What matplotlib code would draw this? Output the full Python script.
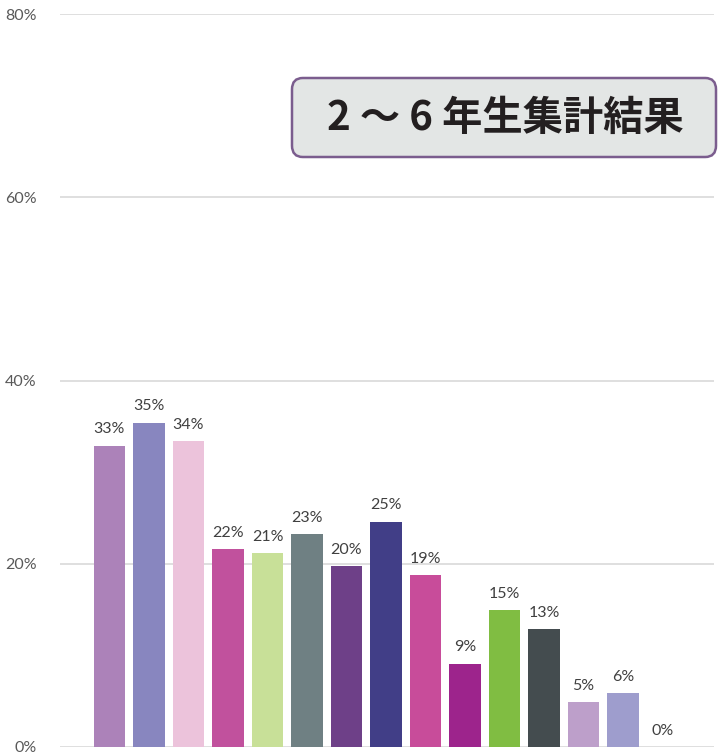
import matplotlib
matplotlib.use('Agg')
import matplotlib.pyplot as plt
from matplotlib.patches import FancyBboxPatch
from matplotlib.ticker import FuncFormatter

values = [33, 35, 34, 22, 21, 23, 20, 25, 19, 9, 15, 13, 5, 6, 0]
heights = [32.9, 35.4, 33.4, 21.6, 21.2, 23.2, 19.7, 24.6, 18.8, 9.1, 14.9, 12.9, 4.9, 5.9, 0.0]
colors = ['#AC82B9', '#8886BF', '#ECC3DB', '#C1519D', '#C8E098', '#6F8083', '#6E4088',
          '#413E87', '#C84C9A', '#9D248C', '#80BD42', '#444C4F', '#BD9FCA', '#9E9DCD', '#CCCCCC']
yticks = [0, 20, 40, 60, 80]
title = '2 ～ 6 年生集計結果'

fig = plt.figure(figsize=(7.18, 7.56), dpi=100)
ax = fig.add_axes([60/718, 9/756, 654/718, 733/756])

x = list(range(len(values)))
ax.bar(x, heights, width=0.8, color=colors, zorder=3)
for xi, h, v in zip(x, heights, values):
    ax.text(xi, h + 1.0, f'{v}%', ha='center', va='bottom', fontsize=11.5,
            color='#404040', family='Lato')

ax.set_ylim(0, 80)
ax.set_xlim(-1.25, 15.3)
ax.set_yticks(yticks)
ax.yaxis.set_major_formatter(FuncFormatter(lambda v, p: f'{int(v)}%'))
ax.grid(axis='y', color='#D9D9D9', lw=1.2, zorder=0)
ax.set_xticks([])
for s in ax.spines.values():
    s.set_visible(False)
ax.tick_params(axis='y', length=0, pad=17, labelsize=11.5, labelcolor='#595959')
for lab in ax.get_yticklabels():
    lab.set_family('Lato')

box = FancyBboxPatch((292/718, 1 - 157/756), 424/718, 79/756,
                     boxstyle='round,pad=0,rounding_size=0.015',
                     transform=fig.transFigure, facecolor='#E3E6E5',
                     edgecolor='#7B5D8E', lw=1.8, zorder=5)
fig.patches.append(box)
fig.text(505/718, 1 - 118/756, title, ha='center', va='center', fontsize=29,
         fontweight='bold', color='#231F20',
         family=['Noto Sans CJK JP', 'DejaVu Sans'], zorder=6)

fig.savefig('out.png', dpi=100)
